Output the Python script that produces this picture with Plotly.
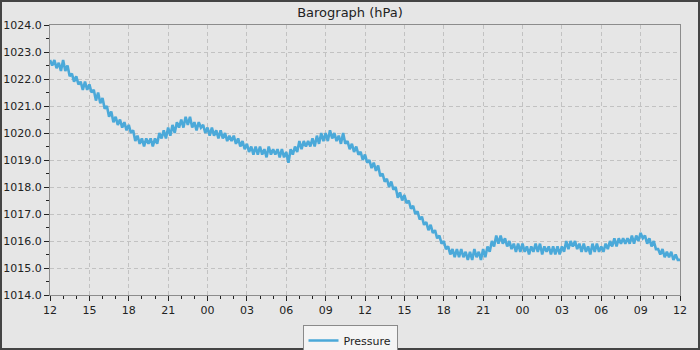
import plotly.graph_objects as go
import pandas as pd

start_time = "2024-01-01 12:00"
step_minutes = 10

pressure_hpa = [
    1022.7, 1022.5, 1022.7, 1022.4, 1022.6, 1022.3,
    1022.7, 1022.3, 1022.5, 1022.1, 1022.2, 1021.9,
    1022.1, 1021.8, 1021.9, 1021.6, 1021.9, 1021.6,
    1021.8, 1021.5, 1021.6, 1021.2, 1021.5, 1021.1,
    1021.3, 1020.9, 1021.0, 1020.6, 1020.8, 1020.4,
    1020.6, 1020.3, 1020.5, 1020.2, 1020.4, 1020.1,
    1020.3, 1020.0, 1020.1, 1019.7, 1019.9, 1019.6,
    1019.8, 1019.5, 1019.8, 1019.6, 1019.8, 1019.5,
    1019.8, 1019.6, 1020.0, 1019.8, 1020.1, 1019.8,
    1020.2, 1019.9, 1020.3, 1020.0, 1020.4, 1020.2,
    1020.5, 1020.2, 1020.6, 1020.3, 1020.6, 1020.2,
    1020.4, 1020.1, 1020.4, 1020.2, 1020.3, 1020.0,
    1020.2, 1019.9, 1020.2, 1019.9, 1020.1, 1019.8,
    1020.1, 1019.8, 1020.0, 1019.7, 1019.9, 1019.7,
    1019.9, 1019.6, 1019.8, 1019.5, 1019.7, 1019.4,
    1019.6, 1019.3, 1019.5, 1019.2, 1019.5, 1019.2,
    1019.5, 1019.2, 1019.4, 1019.1, 1019.5, 1019.2,
    1019.4, 1019.2, 1019.4, 1019.1, 1019.4, 1019.1,
    1019.3, 1018.9, 1019.4, 1019.2, 1019.5, 1019.3,
    1019.7, 1019.4, 1019.7, 1019.5, 1019.7, 1019.5,
    1019.8, 1019.5, 1019.9, 1019.6, 1020.0, 1019.7,
    1020.0, 1019.7, 1020.1, 1019.8, 1020.0, 1019.7,
    1019.9, 1019.6, 1020.0, 1019.6, 1019.7, 1019.4,
    1019.6, 1019.3, 1019.5, 1019.2, 1019.3, 1019.0,
    1019.2, 1018.9, 1019.0, 1018.7, 1018.9, 1018.6,
    1018.8, 1018.4, 1018.5, 1018.2, 1018.3, 1018.0,
    1018.2, 1017.9, 1018.0, 1017.6, 1017.8, 1017.5,
    1017.7, 1017.4, 1017.5, 1017.2, 1017.3, 1017.0,
    1017.1, 1016.8, 1016.9, 1016.6, 1016.7, 1016.4,
    1016.6, 1016.3, 1016.4, 1016.1, 1016.2, 1015.9,
    1016.0, 1015.7, 1015.8, 1015.5, 1015.7, 1015.4,
    1015.7, 1015.4, 1015.7, 1015.4, 1015.6, 1015.3,
    1015.6, 1015.3, 1015.7, 1015.4, 1015.6, 1015.3,
    1015.7, 1015.4, 1015.8, 1015.6, 1016.0, 1015.8,
    1016.2, 1015.9, 1016.2, 1015.9, 1016.1, 1015.8,
    1016.0, 1015.7, 1015.9, 1015.6, 1015.9, 1015.6,
    1015.9, 1015.6, 1015.8, 1015.5, 1015.8, 1015.6,
    1015.9, 1015.6, 1015.9, 1015.5, 1015.8, 1015.6,
    1015.8, 1015.5, 1015.8, 1015.5, 1015.8, 1015.5,
    1015.8, 1015.6, 1016.0, 1015.7, 1016.0, 1015.8,
    1016.0, 1015.7, 1015.9, 1015.6, 1015.9, 1015.6,
    1015.8, 1015.5, 1015.9, 1015.6, 1015.9, 1015.6,
    1015.8, 1015.6, 1015.9, 1015.7, 1016.0, 1015.8,
    1016.1, 1015.8, 1016.1, 1015.9, 1016.1, 1015.9,
    1016.1, 1015.9, 1016.2, 1015.9, 1016.2, 1016.0,
    1016.3, 1016.1, 1016.2, 1015.9, 1016.1, 1015.8,
    1016.0, 1015.7, 1015.7, 1015.5, 1015.7, 1015.4,
    1015.6, 1015.4, 1015.6, 1015.3, 1015.5, 1015.3,
    1015.3,
]

times = pd.date_range(start=start_time, periods=len(pressure_hpa), freq=f"{step_minutes}min")

y_ticks = [1014.0 + i for i in range(11)]

BG = "#e6e6e6"
FONT = "DejaVu Sans"
GRID_DASH = "4px,3px"

fig = go.Figure()
fig.add_trace(go.Scatter(
    x=times, y=pressure_hpa, mode="lines", name="Pressure",
    line=dict(color="#4ba9d9", width=2.6),
))

L, R, T, B = 50, 20, 25, 55
W, H = 700, 350
pw, ph = W - L - R, H - T - B

fig.update_layout(
    width=W, height=H,
    margin=dict(l=L, r=R, t=T, b=B, autoexpand=False),
    paper_bgcolor=BG, plot_bgcolor=BG,
    font=dict(family=FONT, size=11, color="#222222"),
    title=dict(text="Barograph (hPa)", x=(350 - L) / pw, xref="paper", xanchor="center",
               y=1 - 12 / H, yref="container", yanchor="middle",
               font=dict(size=13, family=FONT, color="#222222")),
    showlegend=True,
    legend=dict(orientation="h", x=(350 - L) / pw, xanchor="center",
                y=(T + ph - 325) / ph, yanchor="top",
                bgcolor="#f4f4f4", bordercolor="#8a8a8a", borderwidth=1,
                font=dict(size=11, family=FONT, color="#222222"),
                itemwidth=30, tracegroupgap=0),
    shapes=[dict(type="rect", xref="paper", yref="paper",
                 x0=-L / pw, x1=1 + R / pw, y0=-B / ph, y1=1 + T / ph,
                 line=dict(color="#444444", width=4), layer="above")],
)

fig.update_xaxes(
    type="date", automargin=False,
    range=[times[0], times[-1]],
    dtick=3 * 3600 * 1000, tick0=times[0], tickformat="%H",
    showgrid=True, gridcolor="#c2c2c2", griddash=GRID_DASH, gridwidth=1,
    showline=True, linecolor="#8c8c8c", linewidth=1, mirror=True,
    ticks="outside", ticklen=5, tickcolor="#222222",
    minor=dict(dtick=3600 * 1000, ticks="outside", ticklen=3, tickcolor="#222222", showgrid=False),
    zeroline=False, fixedrange=True,
)
fig.update_yaxes(
    automargin=False,
    range=[1014.0, 1024.0],
    tickvals=y_ticks, tickformat=".1f",
    showgrid=True, gridcolor="#c2c2c2", griddash=GRID_DASH, gridwidth=1,
    showline=True, linecolor="#8c8c8c", linewidth=1, mirror=True,
    ticks="outside", ticklen=5, tickcolor="#222222",
    minor=dict(dtick=0.5, tick0=1014.0, ticks="outside", ticklen=3, tickcolor="#222222", showgrid=False),
    zeroline=False, fixedrange=True,
)

fig.write_html(
    "out.html",
    config={"displayModeBar": False},
    post_script="document.body.style.margin='0';document.body.style.padding='0';",
)
